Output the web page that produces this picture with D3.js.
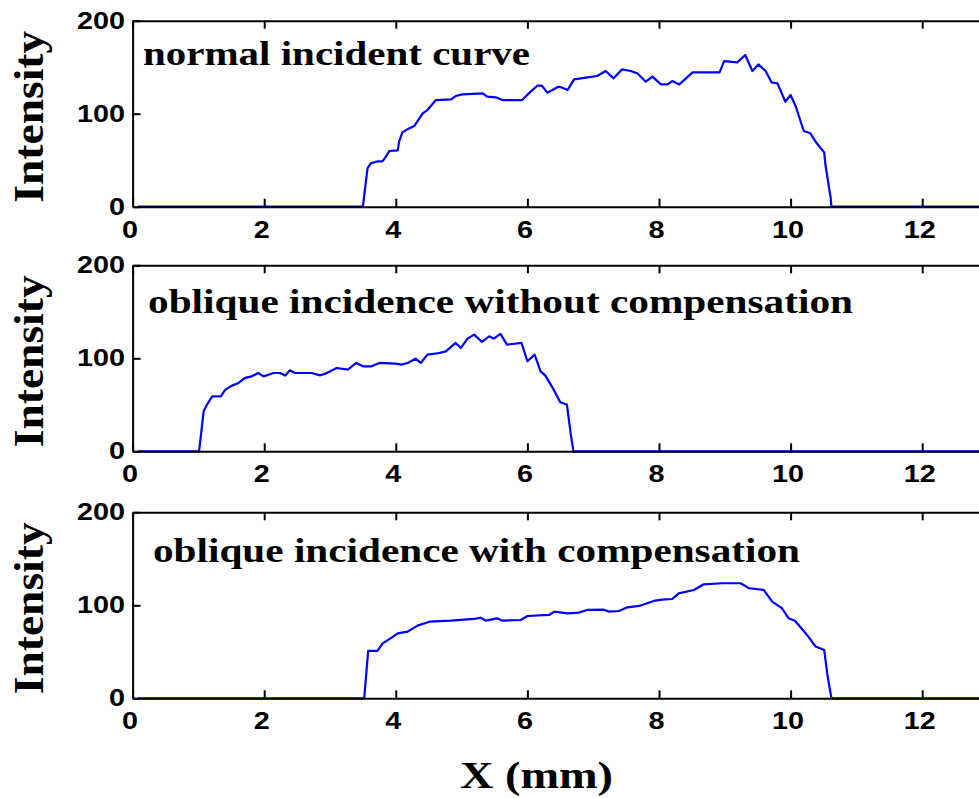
<!DOCTYPE html>
<html>
<head>
<meta charset="utf-8">
<script src="https://cdn.jsdelivr.net/npm/d3@7/dist/d3.min.js"></script>
<style>
  html, body { margin: 0; padding: 0; background: #fff; }
  svg { display: block; }
</style>
</head>
<body>
<svg id="chart" width="979" height="798"></svg>
<script>
// Beam intensity profiles across X (mm), three measurement conditions.
const panelTitles = [
  "normal incident curve",
  "oblique incidence without compensation",
  "oblique incidence with compensation"
];
const xTicks = [0, 2, 4, 6, 8, 10, 12];
const yTicks = [0, 100, 200];
const xLabel = "X (mm)";
const yLabel = "Intensity";

// [X (mm), intensity]
const normalIncident = [
  [0.08, 0], [3.50, 0], [3.57, 41.2], [3.62, 46.6], [3.70, 48.4], [3.80, 49.1],
  [3.85, 53.8], [3.90, 59.9], [4.03, 60.6], [4.05, 69.9], [4.10, 79.9], [4.20, 84.2],
  [4.28, 86.7], [4.33, 92.1], [4.41, 100.4], [4.48, 103.9], [4.61, 114.7], [4.84, 115.4],
  [4.91, 119.0], [5.01, 120.8], [5.32, 121.9], [5.39, 118.3], [5.52, 117.6], [5.62, 114.7],
  [5.92, 114.7], [6.05, 123.7], [6.15, 130.1], [6.22, 130.1], [6.30, 122.6], [6.38, 125.4],
  [6.47, 129.0], [6.53, 128.0], [6.61, 125.4], [6.71, 136.9], [6.89, 138.7], [7.06, 140.5],
  [7.19, 145.9], [7.31, 138.0], [7.44, 147.7], [7.57, 145.9], [7.67, 143.4], [7.80, 134.4],
  [7.90, 139.8], [8.03, 131.5], [8.13, 131.5], [8.20, 135.1], [8.31, 131.5], [8.41, 138.0],
  [8.51, 144.4], [8.92, 144.4], [8.99, 156.6], [9.19, 155.2], [9.31, 163.1], [9.42, 145.9],
  [9.51, 153.0], [9.62, 145.9], [9.71, 133.7], [9.80, 132.6], [9.92, 112.9], [10.00, 120.1],
  [10.08, 107.5], [10.20, 81.4], [10.30, 78.9], [10.38, 69.9], [10.51, 58.4], [10.53, 44.8],
  [10.61, 9.0], [10.62, 0], [14.0, 0]
];

const obliqueUncompensated = [
  [0.08, 0], [1.01, 0], [1.08, 43.0], [1.13, 50.2], [1.21, 59.1], [1.34, 59.1],
  [1.41, 66.3], [1.51, 70.6], [1.61, 73.5], [1.71, 78.9], [1.81, 80.6], [1.91, 84.2],
  [1.99, 80.6], [2.14, 84.2], [2.24, 84.2], [2.32, 81.4], [2.39, 87.1], [2.47, 84.2],
  [2.72, 84.2], [2.85, 81.7], [2.92, 83.2], [3.10, 89.6], [3.27, 87.8], [3.40, 95.0],
  [3.50, 91.4], [3.63, 91.4], [3.75, 95.0], [4.00, 94.3], [4.08, 93.2], [4.18, 95.0],
  [4.30, 99.6], [4.38, 95.0], [4.48, 103.9], [4.66, 105.7], [4.76, 107.5], [4.91, 116.5],
  [4.99, 111.1], [5.09, 121.1], [5.19, 125.4], [5.31, 117.6], [5.42, 123.7], [5.49, 121.1],
  [5.59, 126.2], [5.69, 114.7], [5.91, 116.5], [6.00, 96.8], [6.11, 103.9], [6.20, 86.0],
  [6.27, 81.7], [6.40, 66.3], [6.50, 52.7], [6.60, 50.2], [6.66, 17.9], [6.70, 0], [14.0, 0]
];

const obliqueCompensated = [
  [0.08, 0], [3.52, 0], [3.58, 50.9], [3.72, 50.9], [3.80, 59.1], [3.92, 64.5],
  [4.03, 69.9], [4.18, 71.7], [4.33, 78.1], [4.51, 82.4], [4.84, 83.5], [5.19, 85.3],
  [5.29, 86.7], [5.37, 83.5], [5.54, 86.0], [5.62, 83.5], [5.90, 84.2], [6.00, 88.5],
  [6.33, 89.6], [6.41, 93.2], [6.61, 91.4], [6.78, 92.1], [6.91, 95.0], [7.16, 95.3],
  [7.24, 93.2], [7.39, 93.9], [7.52, 97.8], [7.70, 99.3], [7.92, 104.7], [8.05, 106.1],
  [8.20, 106.8], [8.30, 112.9], [8.53, 116.5], [8.68, 122.6], [8.96, 123.7], [9.24, 123.7],
  [9.37, 118.3], [9.59, 116.5], [9.72, 103.9], [9.87, 96.8], [9.97, 86.0], [10.07, 83.2],
  [10.25, 68.1], [10.38, 55.6], [10.51, 52.0], [10.56, 25.1], [10.62, 0], [14.0, 0]
];

const seriesList = [normalIncident, obliqueUncompensated, obliqueCompensated];

// ---- layout ----
const plotLeft = 132.6;
const plotWidth = 14 * 65.8;          // frame runs past the right edge of the page
const plotHeight = 186;
const panelTops = [20.7, 265.3, 512.3];
const titleLeft = [143, 148, 153];
const titleBaseline = [44.5, 48, 49.5];
const titleWidth = [387, 705, 647];
const textStretch = 1.2;

const svg = d3.select("#chart");
svg.append("rect").attr("width", 979).attr("height", 798).attr("fill", "#fff");

const x = d3.scaleLinear().domain([0, 14]).range([plotLeft, plotLeft + plotWidth]);

seriesList.forEach((series, i) => {
  const top = panelTops[i];
  const y = d3.scaleLinear().domain([0, 200]).range([top + plotHeight, top]);
  const g = svg.append("g");

  // data line
  const line = d3.line().x(d => x(d[0])).y(d => y(d[1]));
  g.append("path")
    .datum(series)
    .attr("d", line)
    .attr("fill", "none")
    .attr("stroke", "#0000ff")
    .attr("stroke-width", 2.2)
    .attr("stroke-linejoin", "round");

  // bottom axis with labels
  const bottom = g.append("g")
    .attr("transform", `translate(0,${top + plotHeight})`)
    .call(d3.axisBottom(x).tickValues(xTicks).tickSizeInner(-8).tickSizeOuter(0).tickPadding(14));
  // top border with mirrored ticks
  const topAxis = g.append("g")
    .attr("transform", `translate(0,${top})`)
    .call(d3.axisTop(x).tickValues(xTicks).tickSizeInner(-8).tickSizeOuter(0).tickFormat(""));
  // left axis
  const left = g.append("g")
    .attr("transform", `translate(${plotLeft},0)`)
    .call(d3.axisLeft(y).tickValues(yTicks).tickSizeInner(-8).tickSizeOuter(0).tickPadding(6.3));

  [bottom, topAxis, left].forEach(a => {
    a.select(".domain").attr("stroke", "#000").attr("stroke-width", 2);
    a.selectAll(".tick line").attr("stroke", "#000").attr("stroke-width", 2);
    a.selectAll("text")
      .attr("fill", "#000")
      .style("font-family", "'Liberation Sans', Arial, Helvetica, sans-serif")
      .style("font-weight", "bold")
      .style("font-size", "24px");
  });
  bottom.selectAll(".tick text").attr("transform", `translate(-3,0) scale(${textStretch},1)`);
  left.selectAll(".tick text").attr("transform", `scale(${textStretch},1)`);

  // panel title
  g.append("text")
    .attr("x", titleLeft[i])
    .attr("y", top + titleBaseline[i])
    .attr("textLength", titleWidth[i])
    .attr("lengthAdjust", "spacingAndGlyphs")
    .style("font-family", "'Liberation Serif', 'Times New Roman', serif")
    .style("font-weight", "bold")
    .style("font-size", "34px")
    .attr("fill", "#000")
    .text(panelTitles[i]);

  // y axis label
  g.append("text")
    .attr("transform", `translate(43,${top + plotHeight / 2 + 3}) rotate(-90)`)
    .attr("text-anchor", "middle")
    .attr("textLength", 172)
    .attr("lengthAdjust", "spacingAndGlyphs")
    .style("font-family", "'Liberation Serif', 'Times New Roman', serif")
    .style("font-weight", "bold")
    .style("font-size", "42px")
    .attr("fill", "#000")
    .text(yLabel);
});

// x axis label
svg.append("text")
  .attr("x", 536.5)
  .attr("y", 788)
  .attr("text-anchor", "middle")
  .attr("textLength", 153)
  .attr("lengthAdjust", "spacingAndGlyphs")
  .style("font-family", "'Liberation Serif', 'Times New Roman', serif")
  .style("font-weight", "bold")
  .style("font-size", "38px")
  .attr("fill", "#000")
  .text(xLabel);
</script>
</body>
</html>
